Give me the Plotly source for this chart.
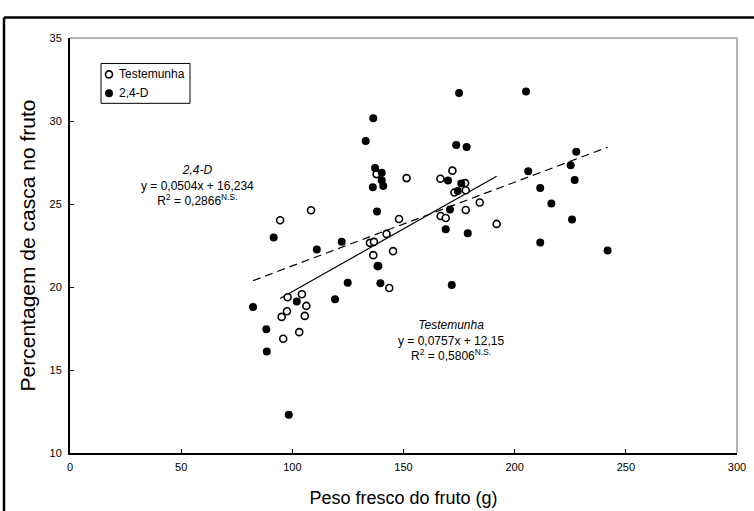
import plotly.graph_objects as go

# Testemunha (open circles)
test_x = [137.9, 151.4, 94.5, 108.4, 148.0, 142.4, 134.9, 136.7, 136.4, 145.3,
          138.4, 97.9, 104.3, 106.3, 97.6, 95.2, 105.6, 103.1, 95.9, 143.6,
          166.6, 172.0, 177.7, 178.0, 172.9, 184.3, 178.0, 166.7, 169.0, 191.9]
test_y = [26.80, 26.56, 24.02, 24.62, 24.10, 23.20, 22.66, 22.72, 21.92, 22.16,
          21.26, 19.38, 19.56, 18.86, 18.54, 18.20, 18.26, 17.28, 16.88, 19.94,
          26.52, 27.01, 26.26, 25.83, 25.69, 25.09, 24.64, 24.28, 24.16, 23.80]

# 2,4-D (filled circles)
d_x = [136.4, 133.0, 137.2, 140.2, 140.2, 136.2, 140.9, 138.1, 91.6, 111.0,
       122.2, 138.7, 82.3, 88.3, 88.5, 98.4, 102.0, 119.2, 124.9, 139.6,
       175.0, 205.1, 173.7, 178.4, 227.7, 225.2, 227.0, 206.1, 170.0, 176.0,
       174.4, 211.5, 216.5, 170.9, 225.8, 169.0, 178.9, 211.5, 241.8, 171.7]
d_y = [30.17, 28.79, 27.17, 26.89, 26.43, 26.01, 26.08, 24.55, 22.98, 22.26,
       22.72, 21.26, 18.80, 17.46, 16.11, 12.31, 19.12, 19.26, 20.26, 20.22,
       31.69, 31.77, 28.55, 28.43, 28.15, 27.33, 26.44, 26.97, 26.41, 26.23,
       25.78, 25.96, 25.03, 24.67, 24.07, 23.48, 23.24, 22.68, 22.20, 20.12]

# regression coefficients (slope, intercept)
test_fit = (0.0757, 12.15)
d_fit = (0.0504, 16.234)

x_ticks = [0, 50, 100, 150, 200, 250, 300]
y_ticks = [10, 15, 20, 25, 30, 35]

FONT = "Liberation Sans, Arial, sans-serif"

fig = go.Figure()

# regression lines
tx = [min(test_x), max(test_x)]
fig.add_trace(go.Scatter(x=tx, y=[test_fit[0] * v + test_fit[1] for v in tx],
                         mode="lines", line=dict(color="black", width=1.2),
                         showlegend=False, hoverinfo="skip"))
dx = [min(d_x), max(d_x)]
fig.add_trace(go.Scatter(x=dx, y=[d_fit[0] * v + d_fit[1] for v in dx],
                         mode="lines", line=dict(color="black", width=1.2, dash="8px,5px"),
                         showlegend=False, hoverinfo="skip"))

fig.add_trace(go.Scatter(x=test_x, y=test_y, mode="markers", name="Testemunha",
                         marker=dict(symbol="circle", size=7, color="white",
                                     line=dict(color="black", width=1.6)),
                         showlegend=False))
fig.add_trace(go.Scatter(x=d_x, y=d_y, mode="markers", name="2,4-D",
                         marker=dict(symbol="circle", size=8, color="black",
                                     line=dict(color="black", width=0)),
                         showlegend=False))

W, H = 754, 511
L, R, T, B = 70, 17, 37.5, 57.5
pw, ph = W - L - R, H - T - B

def px(xp):
    return (xp - L) / pw

def py(yp):
    return (H - B - yp) / ph

shapes = []
# outer frame (left and top edges visible)
shapes.append(dict(type="line", xref="paper", yref="paper", x0=px(4), x1=px(4),
                   y0=py(530), y1=py(17), line=dict(color="black", width=2.5)))
shapes.append(dict(type="line", xref="paper", yref="paper", x0=px(4), x1=px(770),
                   y0=py(17), y1=py(17), line=dict(color="black", width=2.5)))
# plot area top / right gray border
shapes.append(dict(type="line", xref="paper", yref="paper", x0=0, x1=1, y0=1, y1=1,
                   line=dict(color="#9a9a9a", width=1.5)))
shapes.append(dict(type="line", xref="paper", yref="paper", x0=1, x1=1, y0=0, y1=1,
                   line=dict(color="#9a9a9a", width=1.5)))
# legend box
shapes.append(dict(type="rect", xref="paper", yref="paper", x0=px(101), x1=px(190),
                   y0=py(103), y1=py(63), line=dict(color="black", width=1),
                   fillcolor="white"))
# legend symbols
for yc, fill, size in [(74, "white", 7), (93, "black", 8)]:
    shapes.append(dict(type="circle", xref="paper", yref="paper",
                       xsizemode="pixel", ysizemode="pixel",
                       xanchor=px(109), yanchor=py(yc),
                       x0=-size / 2, x1=size / 2, y0=-size / 2, y1=size / 2,
                       fillcolor=fill, line=dict(color="black", width=1.6 if fill == "white" else 0)))

annotations = [
    dict(xref="paper", yref="paper", x=px(117), y=py(74), xanchor="left", yanchor="middle",
         text="Testemunha", showarrow=False, font=dict(family=FONT, size=12, color="black")),
    dict(xref="paper", yref="paper", x=px(117), y=py(93), xanchor="left", yanchor="middle",
         text="2,4-D", showarrow=False, font=dict(family=FONT, size=12, color="black")),
    dict(xref="paper", yref="paper", x=px(197), y=py(185), xanchor="center", yanchor="middle",
         text="<i>2,4-D</i><br>y = 0,0504x + 16,234<br>R<sup>2</sup> = 0,2866<sup>N.S.</sup>",
         showarrow=False, align="center", font=dict(family=FONT, size=12, color="black")),
    dict(xref="paper", yref="paper", x=px(451), y=py(341), xanchor="center", yanchor="middle",
         text="<i>Testemunha</i><br>y = 0,0757x + 12,15<br>R<sup>2</sup> = 0,5806<sup>N.S.</sup>",
         showarrow=False, align="center", font=dict(family=FONT, size=12, color="black")),
]

fig.update_layout(
    width=W, height=H,
    margin=dict(l=L, r=R, t=T, b=B),
    paper_bgcolor="white", plot_bgcolor="white",
    font=dict(family=FONT, color="black"),
    shapes=shapes, annotations=annotations,
    showlegend=False,
    xaxis=dict(range=[0, 300], tickvals=x_ticks, ticktext=[str(v) for v in x_ticks],
               automargin=False,
               showgrid=False, zeroline=False, showline=True, linecolor="black", linewidth=2,
               ticks="inside", ticklen=4, tickcolor="black", tickwidth=1,
               tickfont=dict(family=FONT, size=11, color="black"),
               ticklabelstandoff=3,
               title=dict(text="Peso fresco do fruto (g)", font=dict(family=FONT, size=18, color="black"),
                          standoff=19)),
    yaxis=dict(range=[10, 35], tickvals=y_ticks, ticktext=[str(v) for v in y_ticks],
               automargin=False,
               showgrid=False, zeroline=False, showline=True, linecolor="black", linewidth=2,
               ticks="inside", ticklen=4, tickcolor="black", tickwidth=1,
               tickfont=dict(family=FONT, size=11, color="black"),
               ticklabelstandoff=4,
               title=dict(text="Percentagem de casca no fruto", font=dict(family=FONT, size=21, color="black"),
                          standoff=8)),
)

fig.write_html("out.html", config={"displayModeBar": False},
               post_script="document.body.style.margin='0px';document.body.style.overflow='hidden';")
